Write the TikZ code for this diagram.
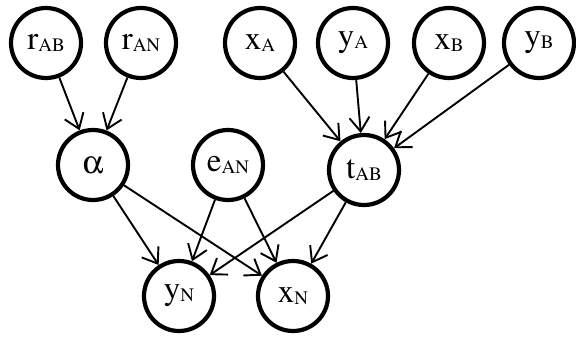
\documentclass[tikz,border=0pt]{standalone}
\usepackage{fontspec}
\setmainfont{TeX Gyre Termes}
\usepackage[Symbol]{upgreek}
\usetikzlibrary{arrows.meta}
\newcommand{\lbl}[2]{#1{\fontsize{19}{19}\selectfont\raisebox{-1.5pt}{#2}}}
\tikzset{
  var/.style={circle, draw, line width=4.2pt, minimum size=70pt, inner sep=0pt,
    font=\rmfamily\fontsize{33}{33}\selectfont},
  edge/.style={line width=1.9pt, -{Straight Barb[length=14pt,width=20pt,line width=1.9pt]}}
}
\begin{document}
\begin{tikzpicture}[x=1pt,y=-1pt]
  \useasboundingbox (0,0) rectangle (576,340);
  % top row
  \node[var] (rab) at (46,43)  {\lbl{r}{AB}};
  \node[var] (ran) at (141,43) {\lbl{r}{AN}};
  \node[var] (xa)  at (260,43) {\lbl{x}{A}};
  \node[var] (ya)  at (353,43) {\lbl{y}{A}};
  \node[var] (xb)  at (449,43) {\lbl{x}{B}};
  \node[var] (yb)  at (539,43) {\lbl{y}{B}};
  % middle row
  \node[var] (al)  at (93,165)  {$\upalpha$};
  \node[var] (ean) at (228,165) {\lbl{e}{AN}};
  \node[var] (tab) at (364,170) {\lbl{t}{AB}};
  % bottom row
  \node[var] (yn)  at (179,296) {\lbl{y}{N}};
  \node[var] (xn)  at (293,296) {\lbl{x}{N}};
  % connectors
  \draw[edge] (rab) -- (al);
  \draw[edge] (ran) -- (al);
  \draw[edge] (xa) -- (tab);
  \draw[edge] (ya) -- (tab);
  \draw[edge] (xb) -- (tab);
  \draw[edge] (yb) -- (tab);
  \draw[edge] (al) -- (yn);
  \draw[edge] (al) -- (xn);
  \draw[edge] (ean) -- (yn);
  \draw[edge] (ean) -- (xn);
  \draw[edge] (tab) -- (yn);
  \draw[edge] (tab) -- (xn);
\end{tikzpicture}
\end{document}
